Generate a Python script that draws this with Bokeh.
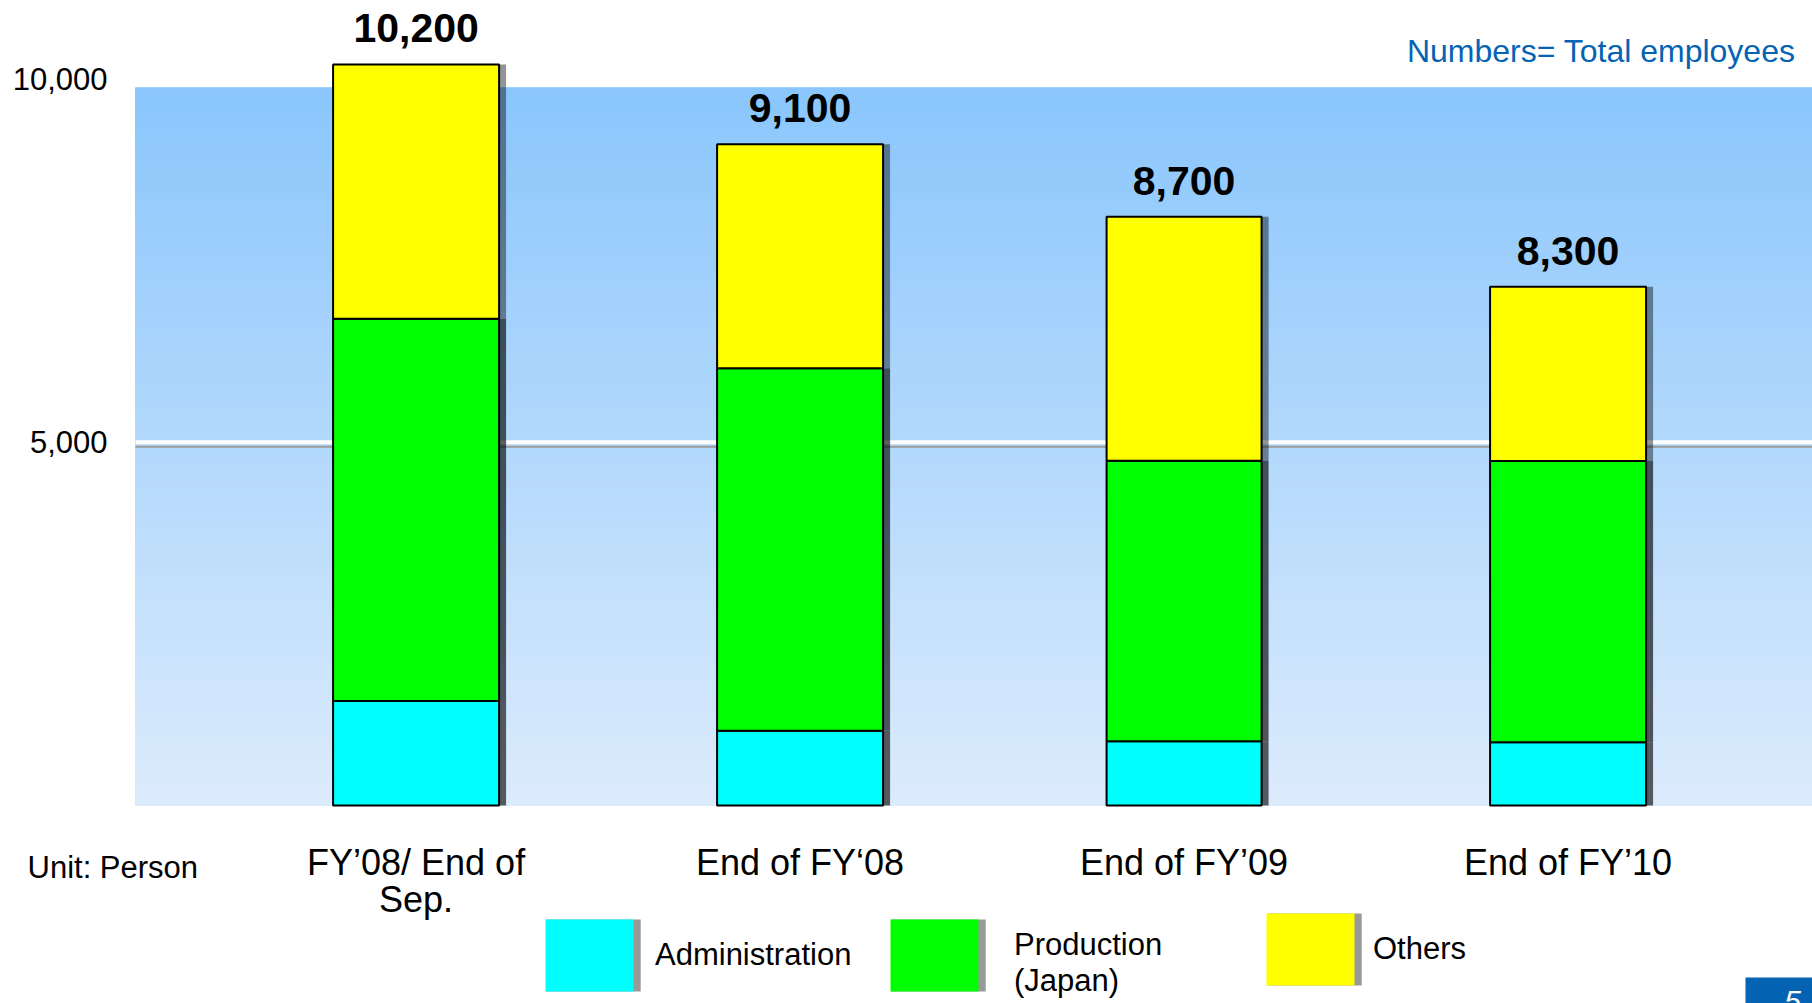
import numpy as np
from bokeh.plotting import figure
from bokeh.models import (Range1d, FixedTicker, NumeralTickFormatter, ColumnDataSource,
                          Legend, LegendItem, Label)
from bokeh.transform import dodge
from bokeh.core.properties import value
from bokeh.embed import file_html
from bokeh.resources import INLINE

# ---------------- data ----------------
categories = ["FY’08/ End of\nSep.", "End of FY‘08", "End of FY’09", "End of FY’10"]
administration = [1440, 1030, 885, 870]
production = [5260, 4990, 3860, 3870]
others = [3500, 3080, 3360, 2400]
total_labels = ["10,200", "9,100", "8,700", "8,300"]
series_names = ["Administration", "Production\n(Japan)", "Others"]
series_keys = ["administration", "production", "others"]
y_ticks = [5000, 10000]

# ---------------- style ----------------
FONT = "Liberation Sans"
COLORS = ["#00FFFF", "#00FF00", "#FFFF00"]
SHADOW_ALPHA = [0.62, 0.64, 0.42]
BLUE = "#0563B4"
W, H = 1812, 1003
BASE_PX = 805            # canvas row of the bars' base
LEFT = 135               # canvas column where the plot area starts
Y_END = 11080
PX_PER_UNIT = BASE_PX / Y_END
Y_START = -(H - BASE_PX) / PX_PER_UNIT
BG_TOP = 9879
PPU = 384.0              # pixels per category step
X_START, X_END = -0.7307, 3.6365
X_CANVAS0 = X_START - LEFT / PPU
BAR_W_PX = [166, 166, 155, 156]   # drawn bar widths (px)


def px_x(px):
    return X_CANVAS0 + px / PPU


def px_y(py):
    return (BASE_PX - py) / PX_PER_UNIT


x = list(range(len(categories)))
totals = [a + b + c for a, b, c in zip(administration, production, others)]
src = ColumnDataSource(dict(x=x, administration=administration, production=production,
                            others=others, total=totals, label=total_labels,
                            w=[b / PPU for b in BAR_W_PX]))

p = figure(width=W, height=H, output_backend="svg", toolbar_location=None,
           x_range=Range1d(X_CANVAS0, X_END), y_range=Range1d(Y_START, Y_END),
           min_border=0, title=None)
p.outline_line_color = None
p.background_fill_color = "white"
p.border_fill_color = "white"
p.grid.visible = False

# background gradient
n = 90
edges = np.linspace(0, BG_TOP, n + 1)
c0 = np.array([220, 235, 252])
c1 = np.array([138, 198, 252])
cols = []
for i in range(n):
    t = (i + 0.5) / n
    c = (c0 + (c1 - c0) * t).round().astype(int)
    cols.append("#%02x%02x%02x" % tuple(c))
p.quad(left=X_START, right=X_END, bottom=edges[:-1], top=edges[1:],
       fill_color=cols, line_color=cols, line_width=1)

# gridline at the first tick (white, with a grey shadow just below)
p.segment(x0=X_START, x1=X_END, y0=y_ticks[0] - 4.5 / PX_PER_UNIT,
          y1=y_ticks[0] - 4.5 / PX_PER_UNIT, line_color="#9a9a9a", line_width=2)
p.segment(x0=X_START, x1=X_END, y0=y_ticks[0], y1=y_ticks[0],
          line_color="white", line_width=4)

# shadows
p.vbar_stack(series_keys, x=dodge("x", 7 / PPU), width="w", source=src,
             fill_color=["black"] * 3, fill_alpha=SHADOW_ALPHA, line_color=None)
# bars
p.vbar_stack(series_keys, x="x", width="w", source=src,
             fill_color=COLORS, line_color="black", line_width=2)

# total labels
p.text(x="x", y="total", text="label", source=src, text_font=value(FONT),
       text_font_style="bold", text_font_size="41px", text_align="center",
       text_baseline="middle", y_offset=-36, text_color="black")

# axes (drawn at fixed locations inside the canvas)
p.yaxis.fixed_location = X_START
p.yaxis.ticker = FixedTicker(ticks=y_ticks)
p.yaxis.formatter = NumeralTickFormatter(format="0,0")
p.yaxis.axis_line_color = None
p.yaxis.major_tick_line_color = None
p.yaxis.minor_tick_line_color = None
p.yaxis.major_tick_out = 0
p.yaxis.major_tick_in = 0
p.yaxis.major_label_standoff = 28
p.yaxis.major_label_text_font = FONT
p.yaxis.major_label_text_font_size = "31px"
p.yaxis.major_label_text_color = "black"

p.xaxis.fixed_location = 0
p.xaxis.ticker = FixedTicker(ticks=x)
p.xaxis.major_label_overrides = {i: c for i, c in zip(x, categories)}
p.xaxis.axis_line_color = None
p.xaxis.major_tick_line_color = None
p.xaxis.minor_tick_line_color = None
p.xaxis.major_tick_out = 0
p.xaxis.major_tick_in = 0
p.xaxis.major_label_standoff = 36
p.xaxis.major_label_text_font = FONT
p.xaxis.major_label_text_font_size = "36px"
p.xaxis.major_label_text_line_height = 0.92
p.xaxis.major_label_text_color = "black"

# texts
p.add_layout(Label(x=1795, y=H - 50, x_units="screen", y_units="screen",
                   text="Numbers= Total employees", text_font=FONT, text_font_size="32px",
                   text_baseline="middle", text_align="right", text_color=BLUE))
p.add_layout(Label(x=27, y=H - 867, x_units="screen", y_units="screen", text="Unit: Person",
                   text_font=FONT, text_font_size="31px", text_baseline="middle",
                   text_align="left", text_color="black"))

# legends (swatch with grey side strip, then label); bokeh insets swatches by 10%
SW_W, SW_H, STRIP = 88, 72, 7
GW, GH = SW_W / 0.8, SW_H / 0.8
LEG_SWATCH = [(545, 991), (890, 991), (1266, 985)]   # swatch left / bottom (canvas px)
LEG_LABEL_DY = [0, -8, 0]
LEG_STANDOFF = [22, 36, 19]


def make_legend(rend, label, pos, gw, so):
    return Legend(items=[LegendItem(label=label, renderers=[rend])], location=pos,
                  glyph_width=int(round(gw)), glyph_height=int(round(GH)), label_standoff=so,
                  padding=0, margin=0, border_line_color=None,
                  background_fill_alpha=0, inactive_fill_alpha=0,
                  label_text_font=FONT, label_text_font_size="31px",
                  label_text_line_height=0.95, label_text_color="black")


for name, color, (sx, sy), dy, so in zip(series_names, COLORS, LEG_SWATCH, LEG_LABEL_DY,
                                        LEG_STANDOFF):
    pos = (sx - 0.1 * GW, (H - sy) - 0.1 * GH)
    grey = p.vbar(x=[x[0]], top=[0], bottom=0, width=0.1, fill_color="#999999", line_color=None)
    sw = p.vbar(x=[x[0]], top=[0], bottom=0, width=0.1, fill_color=color, line_color=None)
    txt = p.vbar(x=[x[0]], top=[0], bottom=0, width=0.1, fill_alpha=0, line_color=None)
    p.add_layout(make_legend(grey, " ", pos, (0.1 * GW + SW_W + STRIP) / 0.9, 0))
    p.add_layout(make_legend(sw, " ", pos, GW, 0))
    p.add_layout(make_legend(txt, name, (pos[0], pos[1] + dy), GW, int(so - 0.1 * GW)))

# page number box
p.quad(left=px_x(1745), right=px_x(W), top=px_y(977), bottom=px_y(H),
       fill_color=BLUE, line_color=None)
p.add_layout(Label(x=1792, y=H - 1000, x_units="screen", y_units="screen",
                   text="5", text_font=FONT, text_font_size="30px", text_font_style="italic",
                   text_baseline="middle", text_align="center", text_color="white"))

open("out.html", "w").write(file_html(p, INLINE))
